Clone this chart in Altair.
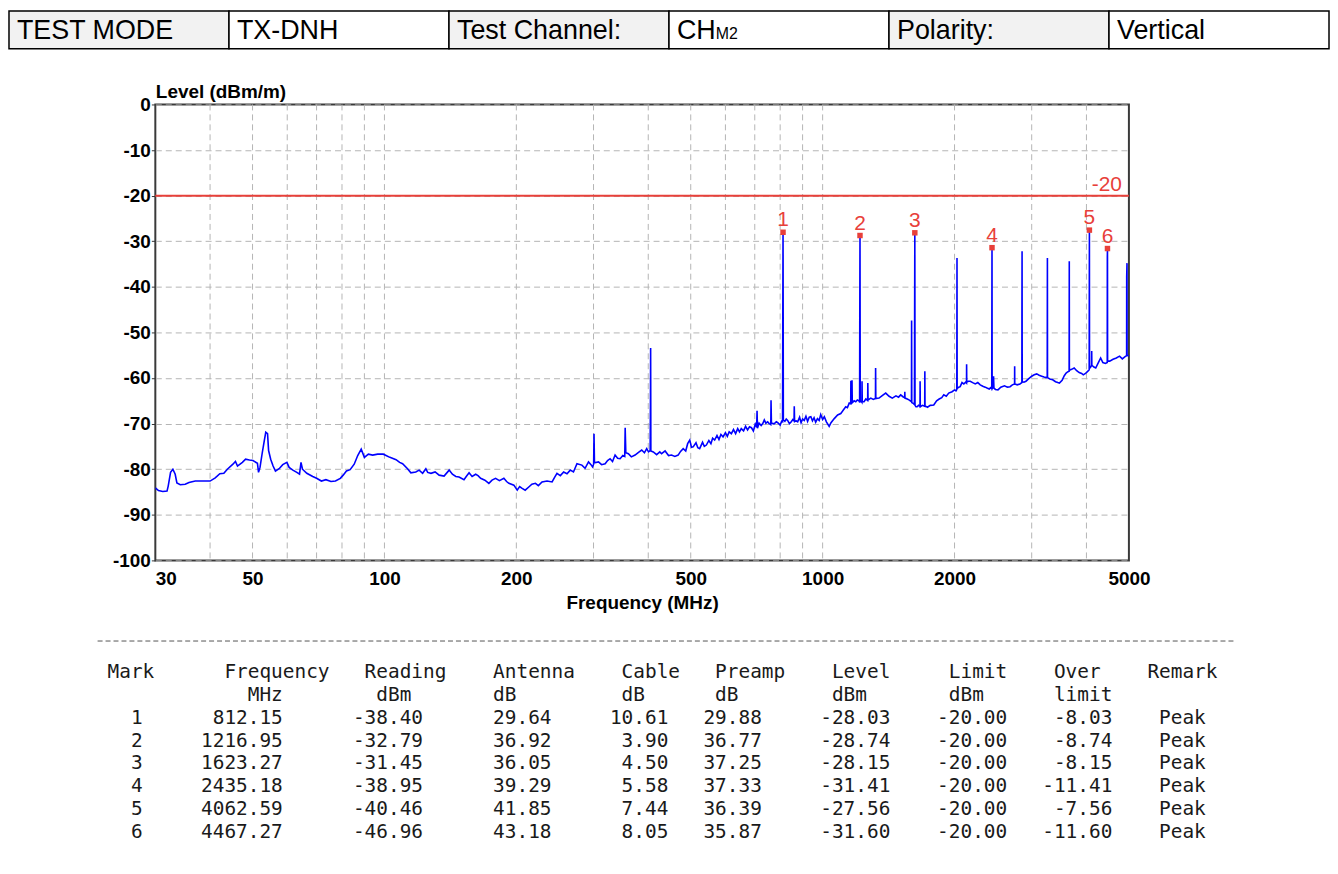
import altair as alt
import pandas as pd

FONT = "Liberation Sans"
MONO = "DejaVu Sans Mono"
RED = "#e8403a"
BLUE = "#0000ff"
GRID = "#b4b4b4"
FRAME = "#3a3a3a"

# ---------------- header row ----------------
header_cells = ["TEST MODE", "TX-DNH", "Test Channel:", "CH", "Polarity:", "Vertical"]
header_kind = ["label", "value", "label", "value", "label", "value"]
channel_subscript = "M2"

# ---------------- spectrum trace (MHz, dBm/m) ----------------
trace_low = [
    (30.0, -84.1), (30.5, -84.7), (31.2, -84.9), (31.9, -84.8), (32.1, -83.7),
    (32.5, -80.7), (32.9, -80.0), (33.3, -81.1), (33.6, -83.0), (34.2, -83.4),
    (35.1, -83.3), (35.8, -82.9), (37.0, -82.6), (38.5, -82.6), (40.0, -82.6),
    (41.1, -81.9), (42.1, -81.0), (43.0, -80.9), (43.8, -80.0), (45.1, -78.9),
    (45.7, -78.3), (46.2, -79.3), (47.4, -78.5), (48.2, -77.8), (49.2, -78.0),
    (50.1, -78.1), (51.3, -78.7), (51.6, -80.7), (52.0, -79.6), (52.6, -76.5),
    (53.2, -73.7), (53.6, -71.9), (54.1, -72.2), (54.4, -75.9), (55.0, -77.8),
    (55.7, -79.3), (56.4, -80.4), (57.5, -79.9), (58.6, -79.0), (59.9, -78.5),
    (60.6, -79.6), (61.8, -80.2), (63.1, -80.7), (64.0, -81.1), (64.5, -78.5),
    (65.0, -80.0), (66.5, -80.9), (68.6, -81.6), (70.0, -82.0), (71.8, -82.6),
    (73.5, -82.3), (75.5, -82.7), (77.3, -82.6), (79.3, -82.0), (80.5, -81.3),
    (81.9, -80.4), (83.5, -80.1), (85.3, -78.9), (86.9, -77.0), (88.5, -75.6),
    (90.0, -77.4), (91.9, -76.7), (94.0, -76.9), (96.5, -76.7), (99.4, -76.7),
    (102.9, -77.4), (106.3, -77.9), (108.3, -78.5), (110.0, -78.8),
]
trace_mid = [
    (112.9, -79.9), (114.9, -80.8), (117.9, -80.6), (120.0, -80.2), (122.2, -80.9),
    (124.3, -79.9), (125.5, -80.7), (127.7, -80.9), (130.5, -80.6), (133.3, -81.3),
    (136.8, -81.5), (140.5, -80.2), (142.9, -81.1), (145.5, -81.6), (148.0, -81.7),
    (151.9, -82.3), (154.0, -81.5), (156.0, -80.8), (158.5, -81.6), (161.5, -81.1),
    (163.5, -81.4), (165.8, -82.0), (169.5, -82.4), (173.1, -83.1), (176.0, -82.4),
    (179.3, -82.0), (183.0, -82.5), (187.3, -82.0), (190.0, -82.7), (192.3, -83.1),
    (197.4, -83.5), (200.9, -84.6), (203.5, -83.8), (206.2, -84.2), (209.5, -84.6),
    (213.5, -83.9), (217.0, -83.3), (221.1, -83.1), (224.5, -83.6), (228.9, -82.8),
    (235.0, -82.6), (241.3, -82.8), (244.5, -81.8), (247.6, -80.9), (252.0, -81.4),
    (256.4, -80.6), (261.0, -81.0), (265.5, -80.2), (270.0, -80.6), (275.0, -78.8),
    (282.2, -79.1), (287.0, -79.8), (292.2, -78.4), (296.0, -79.0), (298.5, -79.5),
    (300.2, -78.9), (300.8, -72.2), (301.5, -78.6), (308.0, -78.4), (313.0, -79.0),
    (318.9, -78.8), (323.0, -78.1), (327.3, -77.7), (331.5, -78.3), (336.0, -76.9),
    (340.5, -77.6), (345.0, -77.7), (350.0, -77.0), (353.5, -77.2), (354.3, -70.9),
    (355.5, -76.4), (360.3, -76.6), (366.0, -77.3), (373.2, -76.9), (380.0, -76.3),
    (386.4, -75.8), (392.0, -76.4), (396.7, -75.5), (400.5, -76.2), (404.0, -75.9),
    (404.6, -65.6), (405.0, -53.4), (405.5, -76.0), (410.7, -76.2), (418.0, -76.8),
    (425.0, -76.2), (429.0, -76.6), (437.0, -76.0), (445.0, -77.0), (452.0, -76.9),
    (460.0, -77.2), (468.0, -76.9), (474.0, -76.1), (480.6, -75.5), (487.0, -76.0),
    (492.0, -74.4), (497.5, -73.6), (502.0, -75.2), (506.4, -75.1), (514.0, -74.2),
    (519.0, -75.3), (524.0, -75.5), (532.0, -74.1), (537.0, -75.0), (542.8, -74.7),
    (550.0, -73.7), (556.0, -74.4), (561.0, -73.2), (567.0, -73.6), (574.0, -72.6),
    (580.0, -73.5), (586.0, -72.4), (592.5, -72.9), (600.0, -72.0), (606.0, -72.8),
    (612.0, -71.8), (619.0, -72.2), (626.0, -71.3), (633.0, -72.2), (640.0, -71.1),
    (646.0, -71.8), (652.0, -71.1), (660.0, -71.6), (667.0, -70.6), (674.0, -71.4),
    (681.0, -70.7), (688.0, -70.9), (695.0, -71.6), (702.0, -70.1), (707.0, -70.8),
    (708.5, -67.2), (710.0, -71.0), (716.0, -69.9), (724.0, -70.4), (730.0, -70.0),
    (736.0, -69.2), (742.0, -69.9), (749.0, -69.6), (755.0, -70.0), (761.5, -70.2),
    (762.5, -64.9), (764.0, -69.8), (770.0, -70.0), (776.0, -70.0), (784.0, -69.6),
    (790.0, -69.8), (800.0, -70.3), (806.0, -69.5), (810.0, -69.6), (811.0, -48.9),
    (812.15, -28.03), (813.5, -69.2), (820.0, -69.5), (826.0, -69.0), (832.0, -69.3),
    (840.0, -70.0), (848.0, -69.6), (855.0, -69.1), (860.5, -69.4), (861.5, -66.2),
    (863.0, -69.5), (870.0, -69.4), (877.0, -69.6), (886.0, -68.6), (893.0, -69.8),
    (900.0, -69.0), (908.0, -69.3), (916.0, -68.4), (924.0, -69.5), (932.0, -68.6),
    (940.0, -68.5), (948.0, -69.4), (956.0, -68.7), (964.0, -69.7), (973.0, -68.9),
    (982.0, -69.3), (990.0, -68.0), (1000.0, -69.1),
]
trace_high = [
    (1009.0, -68.5), (1020.0, -69.6), (1035.0, -70.6), (1045.0, -69.8), (1063.0, -68.9),
    (1082.0, -68.1), (1100.0, -67.8), (1115.0, -67.0), (1129.0, -66.3), (1139.0, -66.5),
    (1150.0, -65.5), (1159.0, -65.6), (1160.0, -60.6), (1161.5, -65.5), (1166.0, -65.3),
    (1167.0, -60.5), (1168.5, -65.4), (1180.0, -65.0), (1190.0, -65.2), (1200.0, -64.8),
    (1210.0, -65.0), (1214.5, -65.3), (1215.5, -46.7), (1216.95, -28.74), (1218.5, -65.2),
    (1225.0, -65.1), (1229.0, -65.3), (1230.0, -60.7), (1231.5, -65.2), (1243.0, -65.2),
    (1255.0, -64.6), (1267.0, -64.9), (1268.0, -61.1), (1269.5, -64.8), (1288.0, -64.4),
    (1305.0, -64.7), (1320.0, -64.5), (1321.0, -57.8), (1322.5, -64.5), (1345.0, -64.4),
    (1370.0, -63.8), (1393.0, -63.3), (1418.0, -64.0), (1442.0, -64.4), (1470.0, -63.9),
    (1490.0, -64.2), (1507.0, -63.7), (1525.0, -64.1), (1539.0, -64.3), (1540.0, -63.0),
    (1541.5, -64.4), (1560.0, -64.6), (1574.0, -64.8), (1585.0, -65.0), (1595.0, -65.2),
    (1596.0, -47.4), (1597.5, -65.4), (1612.0, -65.6), (1620.0, -65.8), (1621.5, -47.0),
    (1623.27, -28.15), (1625.0, -66.0), (1633.0, -66.3), (1643.0, -66.3), (1655.0, -66.0),
    (1668.0, -66.2), (1669.0, -60.7), (1670.5, -66.3), (1690.0, -66.0), (1710.0, -66.2),
    (1711.0, -58.5), (1712.5, -66.1), (1735.0, -66.4), (1760.0, -66.0), (1793.0, -65.9),
    (1820.0, -65.0), (1845.0, -64.6), (1870.0, -64.3), (1890.0, -63.7), (1915.0, -64.0),
    (1940.0, -63.3), (1974.0, -63.0), (2000.0, -62.6), (2015.0, -62.8), (2024.0, -62.5),
    (2025.0, -48.9), (2026.0, -33.7), (2027.5, -62.3), (2045.0, -62.0), (2060.0, -61.9),
    (2080.0, -61.0), (2100.0, -61.3), (2120.0, -60.9), (2130.0, -61.1), (2131.0, -57.0),
    (2132.5, -60.9), (2150.0, -60.7), (2172.0, -60.7), (2200.0, -61.0), (2230.0, -61.3),
    (2260.0, -61.0), (2289.0, -61.5), (2320.0, -61.8), (2350.0, -62.0), (2372.0, -62.2),
    (2400.0, -62.4), (2420.0, -62.1), (2432.0, -62.3), (2433.5, -47.0), (2435.18, -31.41),
    (2437.0, -62.3), (2450.0, -62.0), (2455.0, -59.6), (2460.0, -62.2), (2480.0, -62.5),
    (2513.0, -62.6), (2550.0, -62.0), (2600.0, -61.7), (2640.0, -62.0), (2678.0, -61.9),
    (2710.0, -61.5), (2742.0, -61.3), (2743.0, -57.4), (2744.5, -61.3), (2780.0, -61.5),
    (2820.0, -61.3), (2849.0, -61.0), (2850.0, -46.7), (2852.0, -32.2), (2854.0, -60.8),
    (2880.0, -60.9), (2911.0, -60.7), (2950.0, -60.2), (3000.0, -59.6), (3040.0, -59.3),
    (3080.0, -59.1), (3120.0, -59.4), (3162.0, -59.6), (3200.0, -59.8), (3235.0, -59.9),
    (3255.0, -59.8), (3256.5, -46.7), (3258.0, -33.7), (3260.0, -59.9), (3300.0, -60.2),
    (3350.0, -60.4), (3400.0, -60.8), (3440.0, -61.0), (3470.0, -61.1), (3520.0, -60.5),
    (3560.0, -59.5), (3595.0, -58.9), (3630.0, -58.6), (3652.0, -58.5), (3653.5, -46.3),
    (3655.0, -34.4), (3657.0, -58.3), (3700.0, -58.1), (3750.0, -57.8), (3800.0, -58.4),
    (3850.0, -58.8), (3900.0, -59.0), (3934.0, -59.3), (3980.0, -59.0), (4020.0, -58.6),
    (4050.0, -58.3), (4058.0, -58.2), (4060.0, -42.2), (4062.59, -27.56), (4065.0, -57.9),
    (4090.0, -57.6), (4110.0, -57.2), (4112.0, -54.1), (4115.0, -57.2), (4160.0, -57.6),
    (4200.0, -57.8), (4250.0, -56.8), (4310.0, -55.6), (4360.0, -56.6), (4420.0, -56.8),
    (4462.0, -56.6), (4464.0, -33.5), (4467.27, -31.60), (4470.0, -56.3), (4520.0, -56.3),
    (4600.0, -55.9), (4680.0, -55.6), (4760.0, -55.2), (4830.0, -55.8), (4900.0, -55.3),
    (4940.0, -55.1), (4942.0, -37.8), (4950.0, -34.8), (4952.0, -55.0), (5000.0, -55.2),
]

limit_dbm = -20.0

# ---------------- marker table ----------------
mark_no = [1, 2, 3, 4, 5, 6]
mark_freq = [812.15, 1216.95, 1623.27, 2435.18, 4062.59, 4467.27]
mark_reading = [-38.40, -32.79, -31.45, -38.95, -40.46, -46.96]
mark_antenna = [29.64, 36.92, 36.05, 39.29, 41.85, 43.18]
mark_cable = [10.61, 3.90, 4.50, 5.58, 7.44, 8.05]
mark_preamp = [29.88, 36.77, 37.25, 37.33, 36.39, 35.87]
mark_level = [-28.03, -28.74, -28.15, -31.41, -27.56, -31.60]
mark_limit = [-20.00, -20.00, -20.00, -20.00, -20.00, -20.00]
mark_over = [-8.03, -8.74, -8.15, -11.41, -7.56, -11.60]
mark_remark = ["Peak", "Peak", "Peak", "Peak", "Peak", "Peak"]

table_head_1 = ["Mark", "Frequency", "Reading", "Antenna", "Cable", "Preamp", "Level", "Limit", "Over", "Remark"]
table_head_2 = ["", "MHz", "dBm", "dB", "dB", "dB", "dBm", "dBm", "limit", ""]

# ---------------- axes ----------------
x_label_values = [30, 50, 100, 200, 500, 1000, 2000, 5000]
x_grid_values = [40, 50, 60, 70, 80, 90, 100, 200, 300, 400, 500, 600, 700, 800, 900,
                 1000, 2000, 3000, 4000]
y_tick_values = [-100, -90, -80, -70, -60, -50, -40, -30, -20, -10, 0]

# ======================= header panel =======================
hdr_df = pd.DataFrame({"col": list(range(len(header_cells))), "text": header_cells, "kind": header_kind})
band = alt.Scale(paddingInner=0, paddingOuter=0)
hdr_rect = alt.Chart(hdr_df).mark_rect(stroke="#000000", strokeWidth=1.5).encode(
    x=alt.X("col:O", scale=band, axis=None),
    fill=alt.Fill("kind:N", scale=alt.Scale(domain=["label", "value"], range=["#f2f2f2", "#ffffff"]), legend=None),
)
hdr_text = alt.Chart(hdr_df).mark_text(
    align="left", baseline="alphabetic", dx=8, dy=9, fontSize=27, font=FONT, color="#000000"
).encode(
    x=alt.X("col:O", scale=band, axis=None, bandPosition=0),
    text="text:N",
)
sub_df = pd.DataFrame({"col": [header_cells.index("CH")], "text": [channel_subscript]})
hdr_sub = alt.Chart(sub_df).mark_text(
    align="left", baseline="alphabetic", dx=47, dy=9, fontSize=16, font=FONT, color="#000000"
).encode(
    x=alt.X("col:O", scale=band, axis=None, bandPosition=0),
    text="text:N",
)
header = alt.layer(hdr_rect, hdr_text, hdr_sub).properties(width=1326, height=38)

# ======================= spectrum panel =======================
spec_df = pd.DataFrame(trace_low + trace_mid + trace_high, columns=["freq", "level"])
spec_df["i"] = range(len(spec_df))

xs = alt.Scale(type="log", domain=[30, 5000], nice=False)
ys = alt.Scale(domain=[-100, 0], nice=False)

x_axis = alt.Axis(
    values=x_label_values, labelExpr="'' + datum.value", grid=False, ticks=False, domain=False,
    labelFlush=False, labelOverlap=False,
    labelAlign={"expr": "datum.value == 30 ? 'left' : 'center'"},
    labelFontSize=19, labelFontWeight="bold", labelColor="#000000", labelPadding=9,
    title="Frequency (MHz)", titleFontSize=19, titleFontWeight="bold", titleColor="#000000",
    titlePadding=5,
)
y_axis = alt.Axis(
    values=y_tick_values, labelExpr="'' + datum.value", grid=True, gridColor=GRID,
    gridDash=[6, 4], gridWidth=1,
    domain=False, ticks=True, tickSize=4, tickColor="#333333", tickWidth=1,
    labelFontSize=19, labelFontWeight="bold", labelColor="#000000", labelPadding=1,
    labelOverlap=False, labelFlush=False,
    title="Level (dBm/m)", titleAngle=0, titleAlign="left", titleBaseline="alphabetic",
    titleX=0, titleY=-7, titleFontSize=19, titleFontWeight="bold", titleColor="#000000",
)

vgrid = alt.Chart(pd.DataFrame({"freq": x_grid_values})).mark_rule(
    color=GRID, strokeDash=[6, 4], strokeWidth=1
).encode(x=alt.X("freq:Q", scale=xs, axis=x_axis))

trace = alt.Chart(spec_df).mark_line(color=BLUE, strokeWidth=1.6, clip=True).encode(
    x=alt.X("freq:Q", scale=xs),
    y=alt.Y("level:Q", scale=ys, axis=y_axis),
    order="i:Q",
)

limit_df = pd.DataFrame({"freq": [5000], "level": [limit_dbm], "label": [f"{limit_dbm:.0f}"]})
limit_rule = alt.Chart(limit_df).mark_rule(color=RED, strokeWidth=2).encode(
    y=alt.Y("level:Q", scale=ys)
)
limit_text = alt.Chart(limit_df).mark_text(
    align="right", baseline="alphabetic", dx=-7, dy=-5, fontSize=21, color=RED
).encode(x=alt.X("freq:Q", scale=xs), y=alt.Y("level:Q", scale=ys), text="label:N")

mk_df = pd.DataFrame({"freq": mark_freq, "level": mark_level, "no": [str(n) for n in mark_no]})
mk_pts = alt.Chart(mk_df).mark_square(size=30, color=RED, opacity=1).encode(
    x=alt.X("freq:Q", scale=xs), y=alt.Y("level:Q", scale=ys)
)
mk_lbl = alt.Chart(mk_df).mark_text(baseline="alphabetic", dy=-6, fontSize=21, color=RED).encode(
    x=alt.X("freq:Q", scale=xs), y=alt.Y("level:Q", scale=ys), text="no:N"
)

plot = alt.layer(vgrid, trace, limit_rule, limit_text, mk_pts, mk_lbl).properties(
    width=978, height=458, view=alt.ViewBackground(stroke=FRAME, strokeWidth=2)
)
spacer = alt.Chart(pd.DataFrame({"v": [0]})).mark_point(size=0, opacity=0).encode(
    x=alt.value(0), y=alt.value(0)
).properties(width=102, height=10)
plot_row = alt.hconcat(spacer, plot, spacing=0)

# ======================= marker table panel =======================
def place(words, cols):
    s = ""
    for c, w in zip(cols, words):
        s = s.ljust(c) + w
    return s

head_cols_1 = [0, 10, 22, 33, 44, 52, 62, 72, 81, 89]
head_cols_2 = [0, 12, 23, 33, 44, 52, 62, 72, 81, 89]
lines = [place(table_head_1, head_cols_1), place(table_head_2, head_cols_2)]
for k in range(len(mark_no)):
    lines.append(
        f"{mark_no[k]:>3}{mark_freq[k]:>12.2f}{mark_reading[k]:>12.2f}{mark_antenna[k]:>11.2f}"
        f"{mark_cable[k]:>10.2f}{mark_preamp[k]:>8.2f}{mark_level[k]:>11.2f}{mark_limit[k]:>10.2f}"
        f"{mark_over[k]:>9.2f}    {mark_remark[k]}"
    )
# zero-width lead keeps the fixed-width padding from being trimmed
tbl_df = pd.DataFrame({
    "line": list(range(len(lines))),
    "text": ["\u200b" + s.replace(" ", "\u00a0") for s in lines],
})

tbl_rule = alt.Chart(pd.DataFrame({"a": [0]})).mark_rule(
    color="#555555", strokeDash=[5, 3], strokeWidth=1
).encode(x=alt.value(89), x2=alt.value(1232), y=alt.value(0))
tbl_text = alt.Chart(tbl_df).mark_text(
    align="left", baseline="middle", font=MONO, fontSize=19.5, color="#1a1a1a"
).encode(
    x=alt.value(99),
    y=alt.Y("line:O", axis=None, scale=alt.Scale(type="point", padding=0.94, align=0.72)),
    text="text:N",
)
table = alt.layer(tbl_rule, tbl_text).properties(width=1232, height=204)

inner = alt.vconcat(plot_row, table, spacing=27)
chart = alt.vconcat(header, inner, spacing=32).properties(padding=0).configure(
    font=FONT
).configure_view(strokeWidth=0)

chart.save("out.html", embed_options={"renderer": "svg", "actions": False})
